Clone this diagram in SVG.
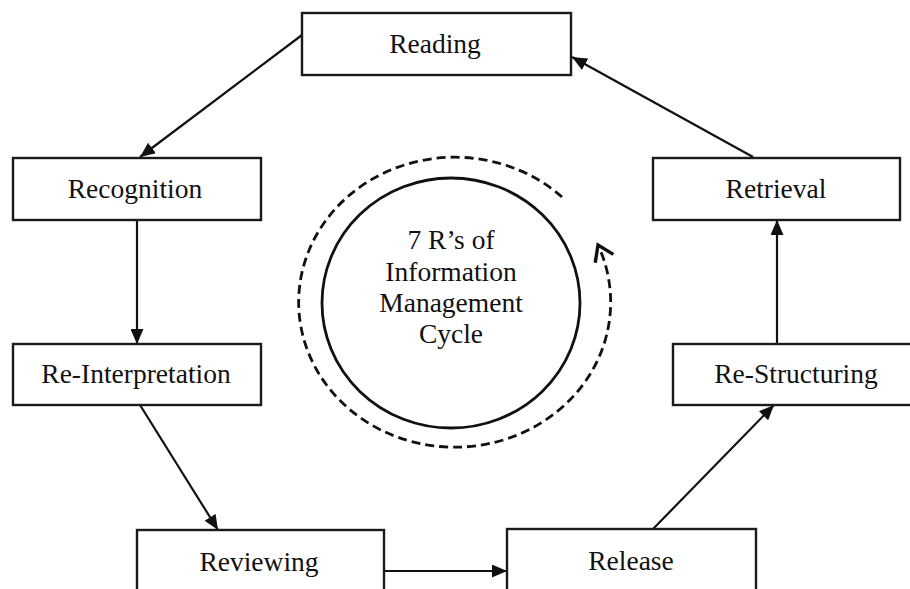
<svg xmlns="http://www.w3.org/2000/svg" width="910" height="589" viewBox="0 0 910 589">
  <style>
    .box { fill: #ffffff; stroke: #1a1a1a; stroke-width: 2.4; }
    .label { font-family: "Liberation Serif", "Times New Roman", serif; font-size: 27.5px; fill: #111111; text-anchor: middle; }
    .edge { stroke: #111111; stroke-width: 2.2; fill: none; marker-end: url(#arrow); }
    .ring { fill: none; stroke: #111111; stroke-width: 2.8; }
    .cycle { fill: none; stroke: #111111; stroke-width: 2.8; stroke-dasharray: 9 5; marker-end: url(#openArrow); }
  </style>
  <defs>
    <marker id="arrow" markerUnits="userSpaceOnUse" markerWidth="15" markerHeight="13" refX="15" refY="6.5" orient="auto">
      <path d="M0,0 L15,6.5 L0,13 z" fill="#111111"/>
    </marker>
    <marker id="openArrow" markerUnits="userSpaceOnUse" markerWidth="26" markerHeight="26" refX="21" refY="13" orient="auto">
      <path d="M6,3 L21,13 L6,23" fill="none" stroke="#111111" stroke-width="3.4" stroke-linejoin="miter"/>
    </marker>
  </defs>

  <rect width="910" height="589" fill="#ffffff"/>

  <!-- connectors between the stages -->
  <g id="connectors">
    <line class="edge" x1="302" y1="35" x2="140" y2="157"/>
    <line class="edge" x1="137" y1="220" x2="137" y2="344"/>
    <line class="edge" x1="140" y1="405" x2="218" y2="530"/>
    <line class="edge" x1="384" y1="571" x2="507" y2="571"/>
    <line class="edge" x1="653" y1="529" x2="774" y2="405"/>
    <line class="edge" x1="777" y1="344" x2="777" y2="220"/>
    <line class="edge" x1="753" y1="157" x2="572" y2="57"/>
  </g>

  <!-- central cycle emblem -->
  <g id="center">
    <ellipse class="ring" cx="451" cy="303" rx="129" ry="125"/>
    <path class="cycle" d="M 562 197 A 156 145 0 1 0 598 245"/>
    <text class="label" x="451" y="249">7 R’s of</text>
    <text class="label" x="451" y="281">Information</text>
    <text class="label" x="451" y="312">Management</text>
    <text class="label" x="451" y="343">Cycle</text>
  </g>

  <g id="reading">
    <rect class="box" x="302" y="13" width="269" height="62"/>
    <text class="label" x="435" y="53">Reading</text>
  </g>
  <g id="recognition">
    <rect class="box" x="13" y="158" width="248" height="62"/>
    <text class="label" x="135" y="198">Recognition</text>
  </g>
  <g id="re-interpretation">
    <rect class="box" x="13" y="344" width="248" height="61"/>
    <text class="label" x="136" y="383">Re-Interpretation</text>
  </g>
  <g id="reviewing">
    <rect class="box" x="137" y="530" width="247" height="80"/>
    <text class="label" x="259" y="571">Reviewing</text>
  </g>
  <g id="release">
    <rect class="box" x="507" y="529" width="249" height="80"/>
    <text class="label" x="631" y="570">Release</text>
  </g>
  <g id="re-structuring">
    <rect class="box" x="673" y="344" width="250" height="61"/>
    <text class="label" x="796" y="383">Re-Structuring</text>
  </g>
  <g id="retrieval">
    <rect class="box" x="653" y="158" width="247" height="62"/>
    <text class="label" x="776" y="198">Retrieval</text>
  </g>
</svg>
